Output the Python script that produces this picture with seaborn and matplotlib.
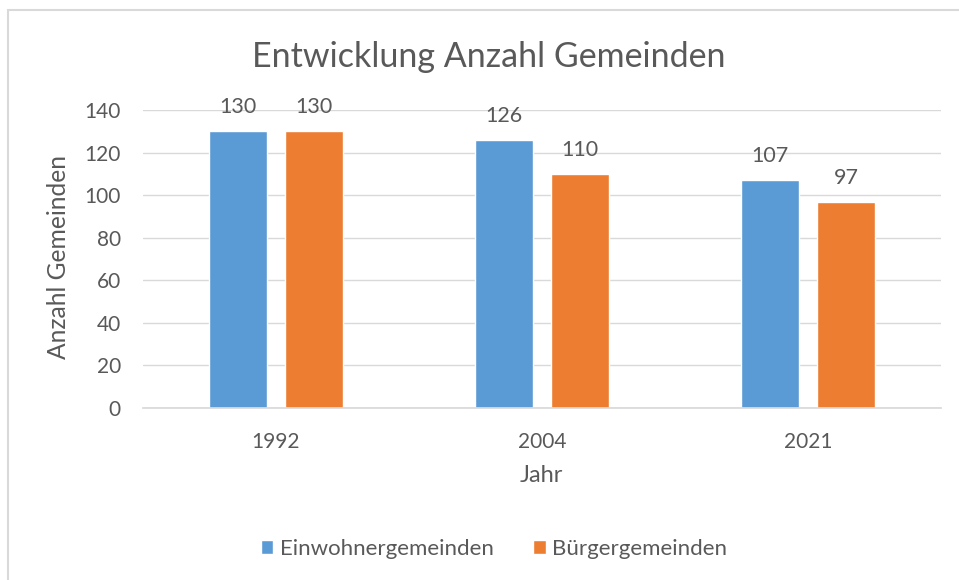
import matplotlib
matplotlib.use("Agg")
import matplotlib.pyplot as plt
import seaborn as sns
import pandas as pd
from matplotlib.patches import Rectangle

years = ["1992", "2004", "2021"]
einwohner = [130, 126, 107]
buerger = [130, 110, 97]
series_names = ["Einwohnergemeinden", "Bürgergemeinden"]
colors = ["#5B9BD5", "#ED7D31"]

df = pd.DataFrame({
    "Jahr": years * 2,
    "Anzahl": einwohner + buerger,
    "Typ": [series_names[0]] * 3 + [series_names[1]] * 3,
})

sns.set_theme(style="white")
plt.rcParams["font.family"] = ["Lato", "DejaVu Sans"]
txt = "#595959"

fig = plt.figure(figsize=(9.59, 5.80), dpi=100)
fig.patches.append(Rectangle((8 / 959, -0.01), 1.0, 1 - 10 / 580 + 0.01, transform=fig.transFigure,
                             fill=False, edgecolor="#D9D9D9", linewidth=1.5))
ax = fig.add_axes([143 / 959, 1 - 408 / 580, (941 - 143) / 959, (408 - 110) / 580])

sns.barplot(data=df, x="Jahr", y="Anzahl", hue="Typ", palette=colors, ax=ax,
            width=0.571, gap=0.224, saturation=1, legend=True)

ax.set_ylim(0, 140)
ax.set_yticks(range(0, 141, 20))
ax.grid(axis="y", color="#D9D9D9", linewidth=1)
ax.set_axisbelow(True)
for s in ["top", "right", "left"]:
    ax.spines[s].set_visible(False)
ax.spines["bottom"].set_color("#D9D9D9")
ax.tick_params(axis="both", colors=txt, labelsize=15, length=0)
ax.tick_params(axis="y", pad=16)
ax.tick_params(axis="x", pad=17)
ax.set_xlabel("")
ax.set_ylabel("")
fig.text(541 / 959, 1 - 476 / 580, "Jahr", ha="center", va="center", color=txt, fontsize=17)
fig.text(58 / 959, 1 - 257 / 580, "Anzahl Gemeinden", ha="center", va="center", rotation=90,
         color=txt, fontsize=17.7)

for cont in ax.containers:
    ax.bar_label(cont, color=txt, fontsize=15.5, padding=10)

fig.text(489 / 959, 1 - 57 / 580, "Entwicklung Anzahl Gemeinden", ha="center", va="center",
         color=txt, fontsize=24.5)

handles, labels = ax.get_legend_handles_labels()
ax.get_legend().remove()
fig.legend(handles, labels, loc="center", bbox_to_anchor=(494 / 959, 1 - 549 / 580), ncol=2, frameon=False,
           fontsize=16, labelcolor=txt, handlelength=0.55, handleheight=0.55, handletextpad=0.3,
           columnspacing=1.8)

fig.savefig("out.png", dpi=100)
